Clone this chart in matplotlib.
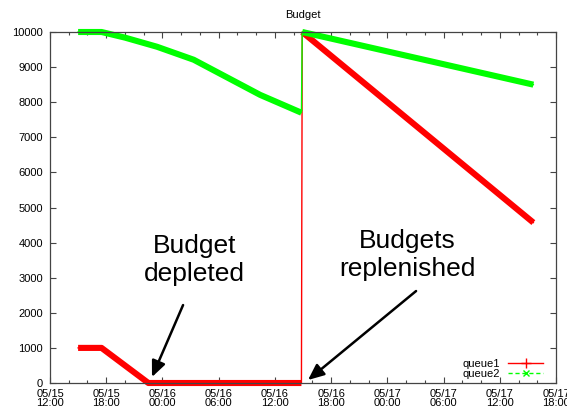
import matplotlib
matplotlib.use("Agg")
import matplotlib.pyplot as plt
import matplotlib.dates as mdates
from matplotlib.lines import Line2D
import pandas as pd

# ---- data ----
q1_times = ["2008-05-15 15:00", "2008-05-15 17:30", "2008-05-15 22:30",
            "2008-05-16 14:50", "2008-05-16 14:55", "2008-05-17 15:35"]
q1_values = [1000, 1000, 0, 0, 10000, 4570]

q2_times = ["2008-05-15 15:00", "2008-05-15 17:30", "2008-05-15 20:00",
            "2008-05-15 23:25", "2008-05-16 03:20", "2008-05-16 10:25",
            "2008-05-16 14:50", "2008-05-16 14:55", "2008-05-17 15:35"]
q2_values = [10000, 10000, 9840, 9580, 9210, 8210, 7700, 10000, 8500]

series_names = ["queue1", "queue2"]
title = "Budget"
y_ticks = list(range(0, 10001, 1000))
x_range = ["2008-05-15 12:00", "2008-05-17 18:00"]

ann_depleted = {"text": "Budget\ndepleted",
                "tip": ("2008-05-15 22:53", 170), "tail": ("2008-05-16 02:12", 2220)}
ann_replen = {"text": "Budgets\nreplenished",
              "tip": ("2008-05-16 15:32", 85), "tail": ("2008-05-17 03:04", 2620)}

# ---- plot ----
plt.rcParams["font.family"] = ["Liberation Sans", "DejaVu Sans"]
fig = plt.figure(figsize=(5.67, 4.12), dpi=100)
ax = fig.add_axes([50 / 567, 29 / 412, 506 / 567, 351 / 412])

t1 = pd.to_datetime(q1_times)
t2 = pd.to_datetime(q2_times)

def split_at_reset(times, values):
    # split the series where the value jumps up (budget reset)
    for i in range(1, len(values)):
        if values[i] > values[i - 1] + 2000:
            return (times[:i], values[:i]), (times[i:], values[i:])
    return (times, values), (times[:0], values[:0])

red = "#ff0000"
green = "#00ff00"
for times, values, col in [(t1, q1_values, red), (t2, q2_values, green)]:
    ax.plot(times, values, color=col, lw=1.0, clip_on=False, zorder=2)
    for seg_t, seg_v in split_at_reset(times, values):
        ax.plot(seg_t, seg_v, color=col, lw=4.4, clip_on=False, zorder=2,
                solid_capstyle="butt", solid_joinstyle="round")

ax.set_xlim(pd.to_datetime(x_range[0]), pd.to_datetime(x_range[1]))
ax.set_ylim(0, 10000)
ax.set_yticks(y_ticks)
ax.xaxis.set_major_locator(mdates.HourLocator(byhour=[0, 6, 12, 18]))
ax.xaxis.set_minor_locator(mdates.HourLocator(byhour=range(0, 24, 2)))
ax.xaxis.set_major_formatter(mdates.DateFormatter("%m/%d\n%H:%M"))

edge = "#444444"
for s in ax.spines.values():
    s.set_color(edge)
    s.set_linewidth(0.9)
ax.tick_params(which="both", direction="in", top=True, right=True,
               color=edge, labelsize=8, width=0.8)
ax.tick_params(which="major", length=4)
ax.tick_params(which="minor", length=2.5)
ax.tick_params(axis="x", pad=4)
ax.tick_params(axis="y", pad=5)
for lbl in ax.get_xticklabels():
    lbl.set_linespacing(0.95)

ax.set_title(title, fontsize=8, pad=10)

# annotations
for ann, pos in [(ann_depleted, (0.285, 0.350)), (ann_replen, (0.7055, 0.365))]:
    ax.text(pos[0], pos[1], ann["text"], transform=ax.transAxes, ha="center",
            va="center", fontsize=19, multialignment="center", linespacing=1.2)
    tip = (pd.to_datetime(ann["tip"][0]), ann["tip"][1])
    tail = (pd.to_datetime(ann["tail"][0]), ann["tail"][1])
    ax.annotate("", xy=tip, xytext=tail,
                arrowprops=dict(arrowstyle="-|>,head_length=0.8,head_width=0.35",
                                lw=1.8, color="black", shrinkA=0, shrinkB=0,
                                mutation_scale=12))

handles = [Line2D([], [], color=red, lw=1, marker="+", markersize=7, markeredgewidth=1),
           Line2D([], [], color=green, lw=1, ls=(0, (3, 2)), marker="x",
                  markersize=5, markeredgewidth=1)]
ax.legend(handles, series_names, loc="lower right", bbox_to_anchor=(0.974, 0.012),
          frameon=False, markerfirst=False, fontsize=8, handlelength=3.1,
          handletextpad=0.8, labelspacing=0.0, borderpad=0, borderaxespad=0,
          numpoints=1)

fig.savefig("out.png", dpi=100)
